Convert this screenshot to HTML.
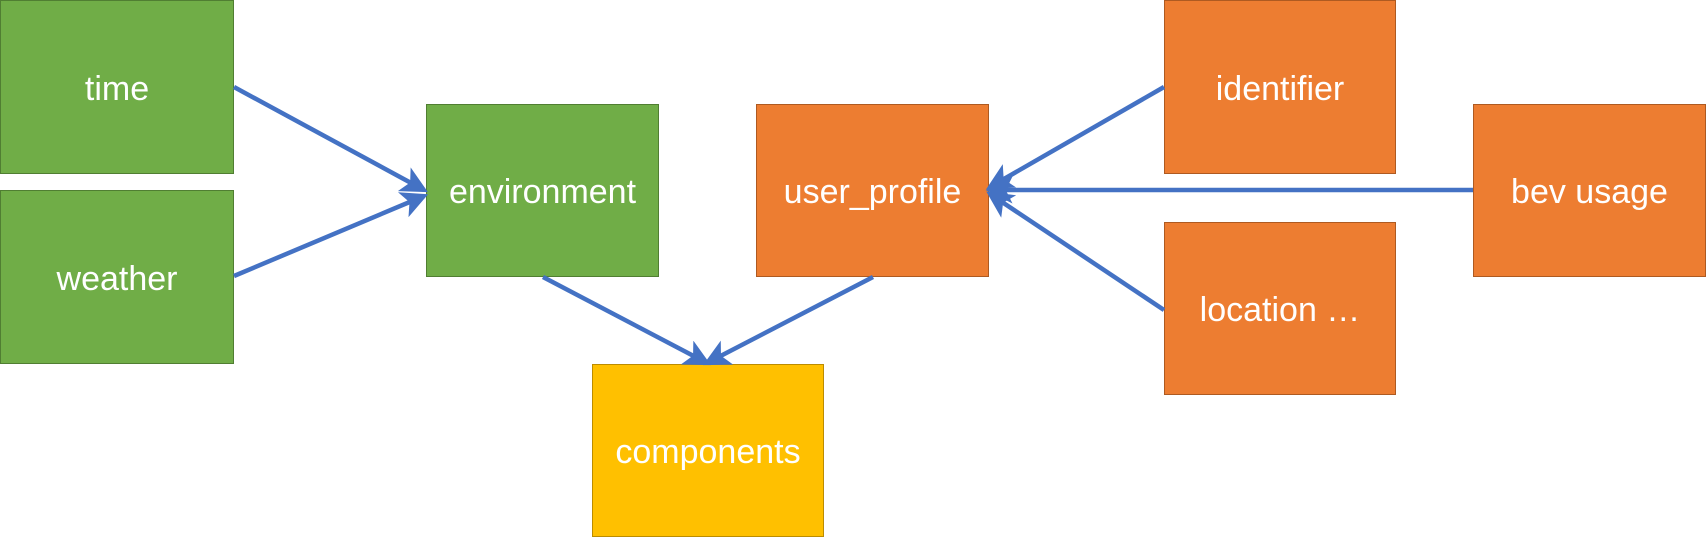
<!DOCTYPE html>
<html><head><style>
body{margin:0;width:1706px;height:539px;background:#fff;overflow:hidden;position:relative;font-family:"Liberation Sans",sans-serif}
.b{position:absolute;box-sizing:border-box;display:flex;align-items:center;justify-content:center;color:#fff;font-size:34px;border:1.5px solid;padding-top:4px}
.g{background:#70ad47;border-color:#507e32}
.o{background:#ed7d31;border-color:#ae5a21}
.y{background:#ffc000;border-color:#bc8c00}
svg{position:absolute;left:0;top:0}
</style></head><body>
<div class="b g" style="left:0;top:0;width:234px;height:174px">time</div>
<div class="b g" style="left:0;top:190px;width:234px;height:174px">weather</div>
<div class="b g" style="left:426px;top:104px;width:233px;height:173px">environment</div>
<div class="b o" style="left:756px;top:104px;width:233px;height:173px">user_profile</div>
<div class="b o" style="left:1164px;top:0;width:232px;height:174px">identifier</div>
<div class="b o" style="left:1164px;top:222px;width:232px;height:173px">location …</div>
<div class="b o" style="left:1473px;top:104px;width:233px;height:173px">bev usage</div>
<div class="b y" style="left:592px;top:364px;width:232px;height:173px">components</div>
<svg width="1706" height="539">
<defs><marker id="a" markerWidth="6" markerHeight="6" refX="5" refY="3" orient="auto" markerUnits="strokeWidth"><path d="M0,0L6,3L0,6L1.5,3z" fill="#4472c4"/></marker></defs>
<g stroke="#4472c4" stroke-width="4.5" fill="none" marker-end="url(#a)">
<line x1="234" y1="87" x2="424" y2="190"/>
<line x1="234" y1="276" x2="424" y2="196"/>
<line x1="543" y1="277" x2="707" y2="363"/>
<line x1="873" y1="277" x2="707" y2="363"/>
<line x1="1164" y1="87" x2="990" y2="187"/>
<line x1="1473" y1="190" x2="990" y2="190"/>
<line x1="1164" y1="310" x2="990" y2="194"/>
</g></svg>
</body></html>
